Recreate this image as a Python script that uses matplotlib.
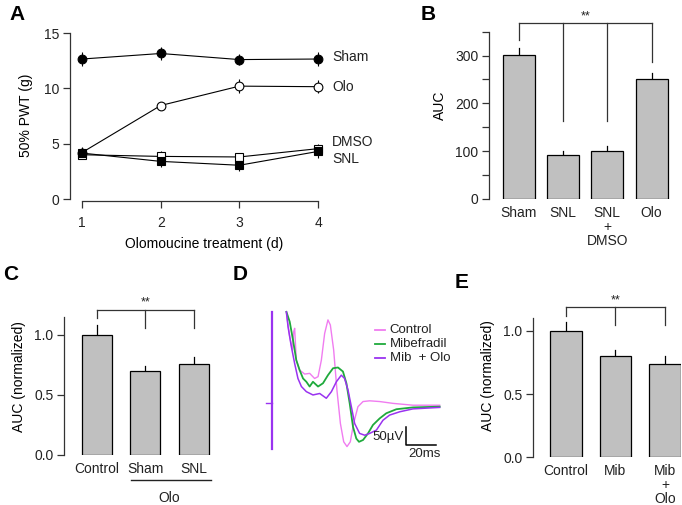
import numpy as np
import matplotlib
matplotlib.use('Agg')
import matplotlib.pyplot as plt

plt.rcParams['font.family'] = ['Liberation Sans', 'DejaVu Sans']
plt.rcParams['font.size'] = 10
plt.rcParams['text.color'] = '#222222'
plt.rcParams['axes.edgecolor'] = '#333333'
plt.rcParams['xtick.color'] = '#333333'
plt.rcParams['ytick.color'] = '#333333'
plt.rcParams['xtick.labelcolor'] = '#222222'
plt.rcParams['ytick.labelcolor'] = '#222222'

W, H = 682, 505

# ---- panel A: 50% PWT over days
days = [1, 2, 3, 4]
sham = [12.65, 13.15, 12.6, 12.65]
sham_err = [0.6, 0.6, 0.5, 0.6]
olo = [4.2, 8.45, 10.2, 10.15]
olo_err = [0.5, 0.3, 0.6, 0.6]
dmso = [4.0, 3.85, 3.8, 4.55]
dmso_err = [0.4, 0.5, 0.4, 0.4]
snl = [4.15, 3.4, 3.05, 4.3]
snl_err = [0.5, 0.5, 0.5, 0.6]

# ---- panel B: AUC
b_groups = ['Sham', 'SNL', 'SNL\n+\nDMSO', 'Olo']
b_auc = [301, 92, 100, 250]
b_err = [14, 9, 11, 13]

# ---- panel C: normalized AUC
c_groups = ['Control', 'Sham', 'SNL']
c_auc = [1.0, 0.70, 0.76]
c_err = [0.08, 0.045, 0.06]

# ---- panel E: normalized AUC
e_groups = ['Control', 'Mib', 'Mib\n+\nOlo']
e_auc = [1.0, 0.80, 0.735]
e_err = [0.07, 0.05, 0.065]

# ---- panel D: traces (ms, uV)
ctrl_t = [9.6, 11.8, 13.6, 14.4, 15.1, 16.2, 18.4, 21.8, 25.1, 28.4, 30.7, 32.9, 35.1,
          37.3, 38.9, 41.1, 43.3, 45.6, 47.8, 50.0, 52.2, 54.4, 57.3, 60.7, 65.1, 71.8,
          80.7, 94.0, 111.8]
ctrl_v = [256, 192, 156, 205, 215, 128, 101, 90, 92, 78, 83, 128, 201,
          238, 224, 156, 46, -45, -95, -108, -95, -45, 1, 15, 17, 15,
          10, 5, 5]
mib_t = [9.6, 11.8, 14.0, 16.2, 18.4, 20.7, 22.9, 25.1, 27.3, 30.7, 34.0, 37.3, 40.7,
         44.0, 47.3, 49.6, 51.8, 54.0, 56.2, 58.0, 60.7, 64.0, 67.3, 71.8, 76.2, 82.9,
         94.0, 111.8]
mib_v = [260, 233, 183, 128, 101, 78, 69, 56, 69, 56, 65, 87, 106,
         108, 97, 65, 10, -54, -86, -95, -90, -72, -49, -31, -17, -6,
         -1, 1]
mibolo_t = [9.6, 10.7, 12.9, 15.1, 17.3, 19.6, 22.9, 27.3, 31.8, 36.2, 39.6, 42.9, 46.2,
            48.4, 50.7, 52.9, 55.1, 58.4, 61.8, 65.1, 69.6, 74.0, 78.4, 85.1, 94.0, 111.8]
mibolo_v = [260, 219, 165, 119, 78, 56, 42, 33, 37, 24, 42, 69, 87,
            78, 46, 1, -45, -72, -77, -72, -63, -36, -22, -13, -5, -1]

fig = plt.figure(figsize=(W / 100, H / 100), dpi=100)


def add_ax(left, top, right, bottom):
    return fig.add_axes([left / W, 1 - bottom / H, (right - left) / W, (bottom - top) / H])


def letter(x, y, s):
    fig.text(x / W, 1 - y / H, s, fontsize=15, fontweight='bold', color='black',
             ha='center', va='center')


def style(ax):
    for s in ['top', 'right']:
        ax.spines[s].set_visible(False)
    ax.tick_params(direction='out', length=5, width=0.9, pad=2.5)
    ax.spines['left'].set_linewidth(0.9)
    ax.spines['bottom'].set_linewidth(0.9)


# ---------------- A
axA = add_ax(70, 29.7, 337.7, 201)
style(axA)
series = [(sham, sham_err, 'o', 'black'), (olo, olo_err, 'o', 'white'),
          (dmso, dmso_err, 's', 'white'), (snl, snl_err, 's', 'black')]
for vals, err, m, fc in series:
    axA.errorbar(days, vals, yerr=err, color='black', lw=0.8, elinewidth=0.8, capsize=0,
                 marker=m, markersize=6.3 if m == 'o' else 6, markerfacecolor=fc,
                 markeredgecolor='black', markeredgewidth=0.8, clip_on=False, zorder=3)
axA.set_xlim(0.847, 4.25)
axA.set_ylim(-0.18, 15.3)
axA.spines['left'].set_bounds(0, 15)
axA.spines['bottom'].set_bounds(1, 4)
axA.set_xticks(days)
axA.set_yticks([0, 5, 10, 15])
axA.tick_params(axis='x', pad=6)
for txt, yv in [('Sham', 12.8), ('Olo', 10.1), ('DMSO', 5.15), ('SNL', 3.6)]:
    axA.text(4.18, yv, txt, ha='left', va='center', fontsize=10)
axA.set_xlabel('Olomoucine treatment (d)', labelpad=5)
axA.set_ylabel('50% PWT (g)', labelpad=8)


def bar_panel(ax, groups, vals, errs, width):
    style(ax)
    x = np.arange(len(groups))
    ax.bar(x, vals, width=width, color='#c0c0c0', edgecolor='black', linewidth=0.9, zorder=2)
    for xi, v, e in zip(x, vals, errs):
        ax.plot([xi, xi], [v, v + e], color='black', lw=0.9, zorder=1)
    ax.spines['bottom'].set_visible(False)
    ax.set_xticks(x)
    ax.set_xticklabels(groups, linespacing=1.0, va='top')
    ax.tick_params(axis='x', length=0, pad=5)
    return x


def bracket(ax, xs, top, drops, star_y):
    ax.plot([xs[0], xs[-1]], [top, top], color='#333333', lw=0.9, clip_on=False)
    for xi, d in zip(xs, drops):
        ax.plot([xi, xi], [top, d], color='#333333', lw=0.9, clip_on=False)
    ax.text((xs[0] + xs[-1]) / 2, star_y, '**', ha='center', va='center', fontsize=9)


# ---------------- B
axB = add_ax(489, 12.7, 673.8, 198.7)
xb = bar_panel(axB, b_groups, b_auc, b_err, 0.72)
axB.set_xlim(-0.67, 3.5)
axB.set_ylim(0, 390)
axB.spines['left'].set_bounds(0, 350)
axB.set_yticks([0, 50, 100, 150, 200, 250, 300, 350])
axB.set_yticklabels(['0', '', '100', '', '200', '', '300', ''])
axB.set_ylabel('AUC', labelpad=6)
bracket(axB, xb, 368, [333, 163, 163, 287], 383)

# ---------------- C
axC = add_ax(64, 299, 218.3, 455)
xc = bar_panel(axC, c_groups, c_auc, c_err, 0.62)
axC.set_xlim(-0.672, 2.5)
axC.set_ylim(0, 1.3)
axC.spines['left'].set_bounds(0, 1.15)
axC.set_yticks([0, 0.5, 1.0])
axC.set_ylabel('AUC (normalized)', labelpad=6)
bracket(axC, xc, 1.21, [1.14, 1.06, 1.06], 1.27)
axC.plot([0.705, 2.35], [-0.208, -0.208], color='#222222', lw=1.0, clip_on=False)
axC.text(1.5, -0.355, 'Olo', ha='center', va='center', fontsize=10)

# ---------------- E
axE = add_ax(533, 293.1, 680.8, 457.3)
xe = bar_panel(axE, e_groups, e_auc, e_err, 0.63)
axE.set_xlim(-0.667, 2.32)
axE.set_ylim(0, 1.3)
axE.spines['left'].set_bounds(0, 1.1)
axE.set_yticks([0, 0.5, 1.0])
axE.set_ylabel('AUC (normalized)', labelpad=6)
bracket(axE, xe, 1.19, [1.12, 1.05, 1.05], 1.245)

# ---------------- D
axD = add_ax(262, 305, 446, 455)
axD.axis('off')
axD.set_xlim(-6.67, 116)
axD.set_ylim(-131, 278.7)
c_ctrl, c_mib, c_olo = '#f07cf0', '#1faa3c', '#9a33f0'
axD.plot(ctrl_t, ctrl_v, color=c_ctrl, lw=1.0)
axD.plot(mib_t, mib_v, color=c_mib, lw=1.3)
axD.plot(mibolo_t, mibolo_v, color=c_olo, lw=1.1)
axD.plot([0, 0], [-115, 260], color=c_olo, lw=1.6)
axD.plot([-3.8, 0], [12, 12], color=c_olo, lw=1.0)
# scale bar
axD.plot([89.6, 89.6, 109.6], [-54, -104, -104], color='black', lw=1.1)
axD.text(87.5, -81, '50\u00b5V', ha='right', va='center', fontsize=9.5)
axD.text(101.5, -127, '20ms', ha='center', va='center', fontsize=9.5)
for (lab, col, yv) in [('Control', c_ctrl, 210), ('Mibefradil', c_mib, 171),
                       ('Mib  + Olo', c_olo, 133)]:
    axD.plot([68.4, 75.1], [yv, yv], color=col, lw=1.3)
    axD.text(78.4, yv, lab, ha='left', va='center', fontsize=9.5)

letter(17, 15, 'A')
letter(428, 15, 'B')
letter(11, 275, 'C')
letter(240, 275, 'D')
letter(462, 283, 'E')

fig.savefig('out.png', dpi=100)
